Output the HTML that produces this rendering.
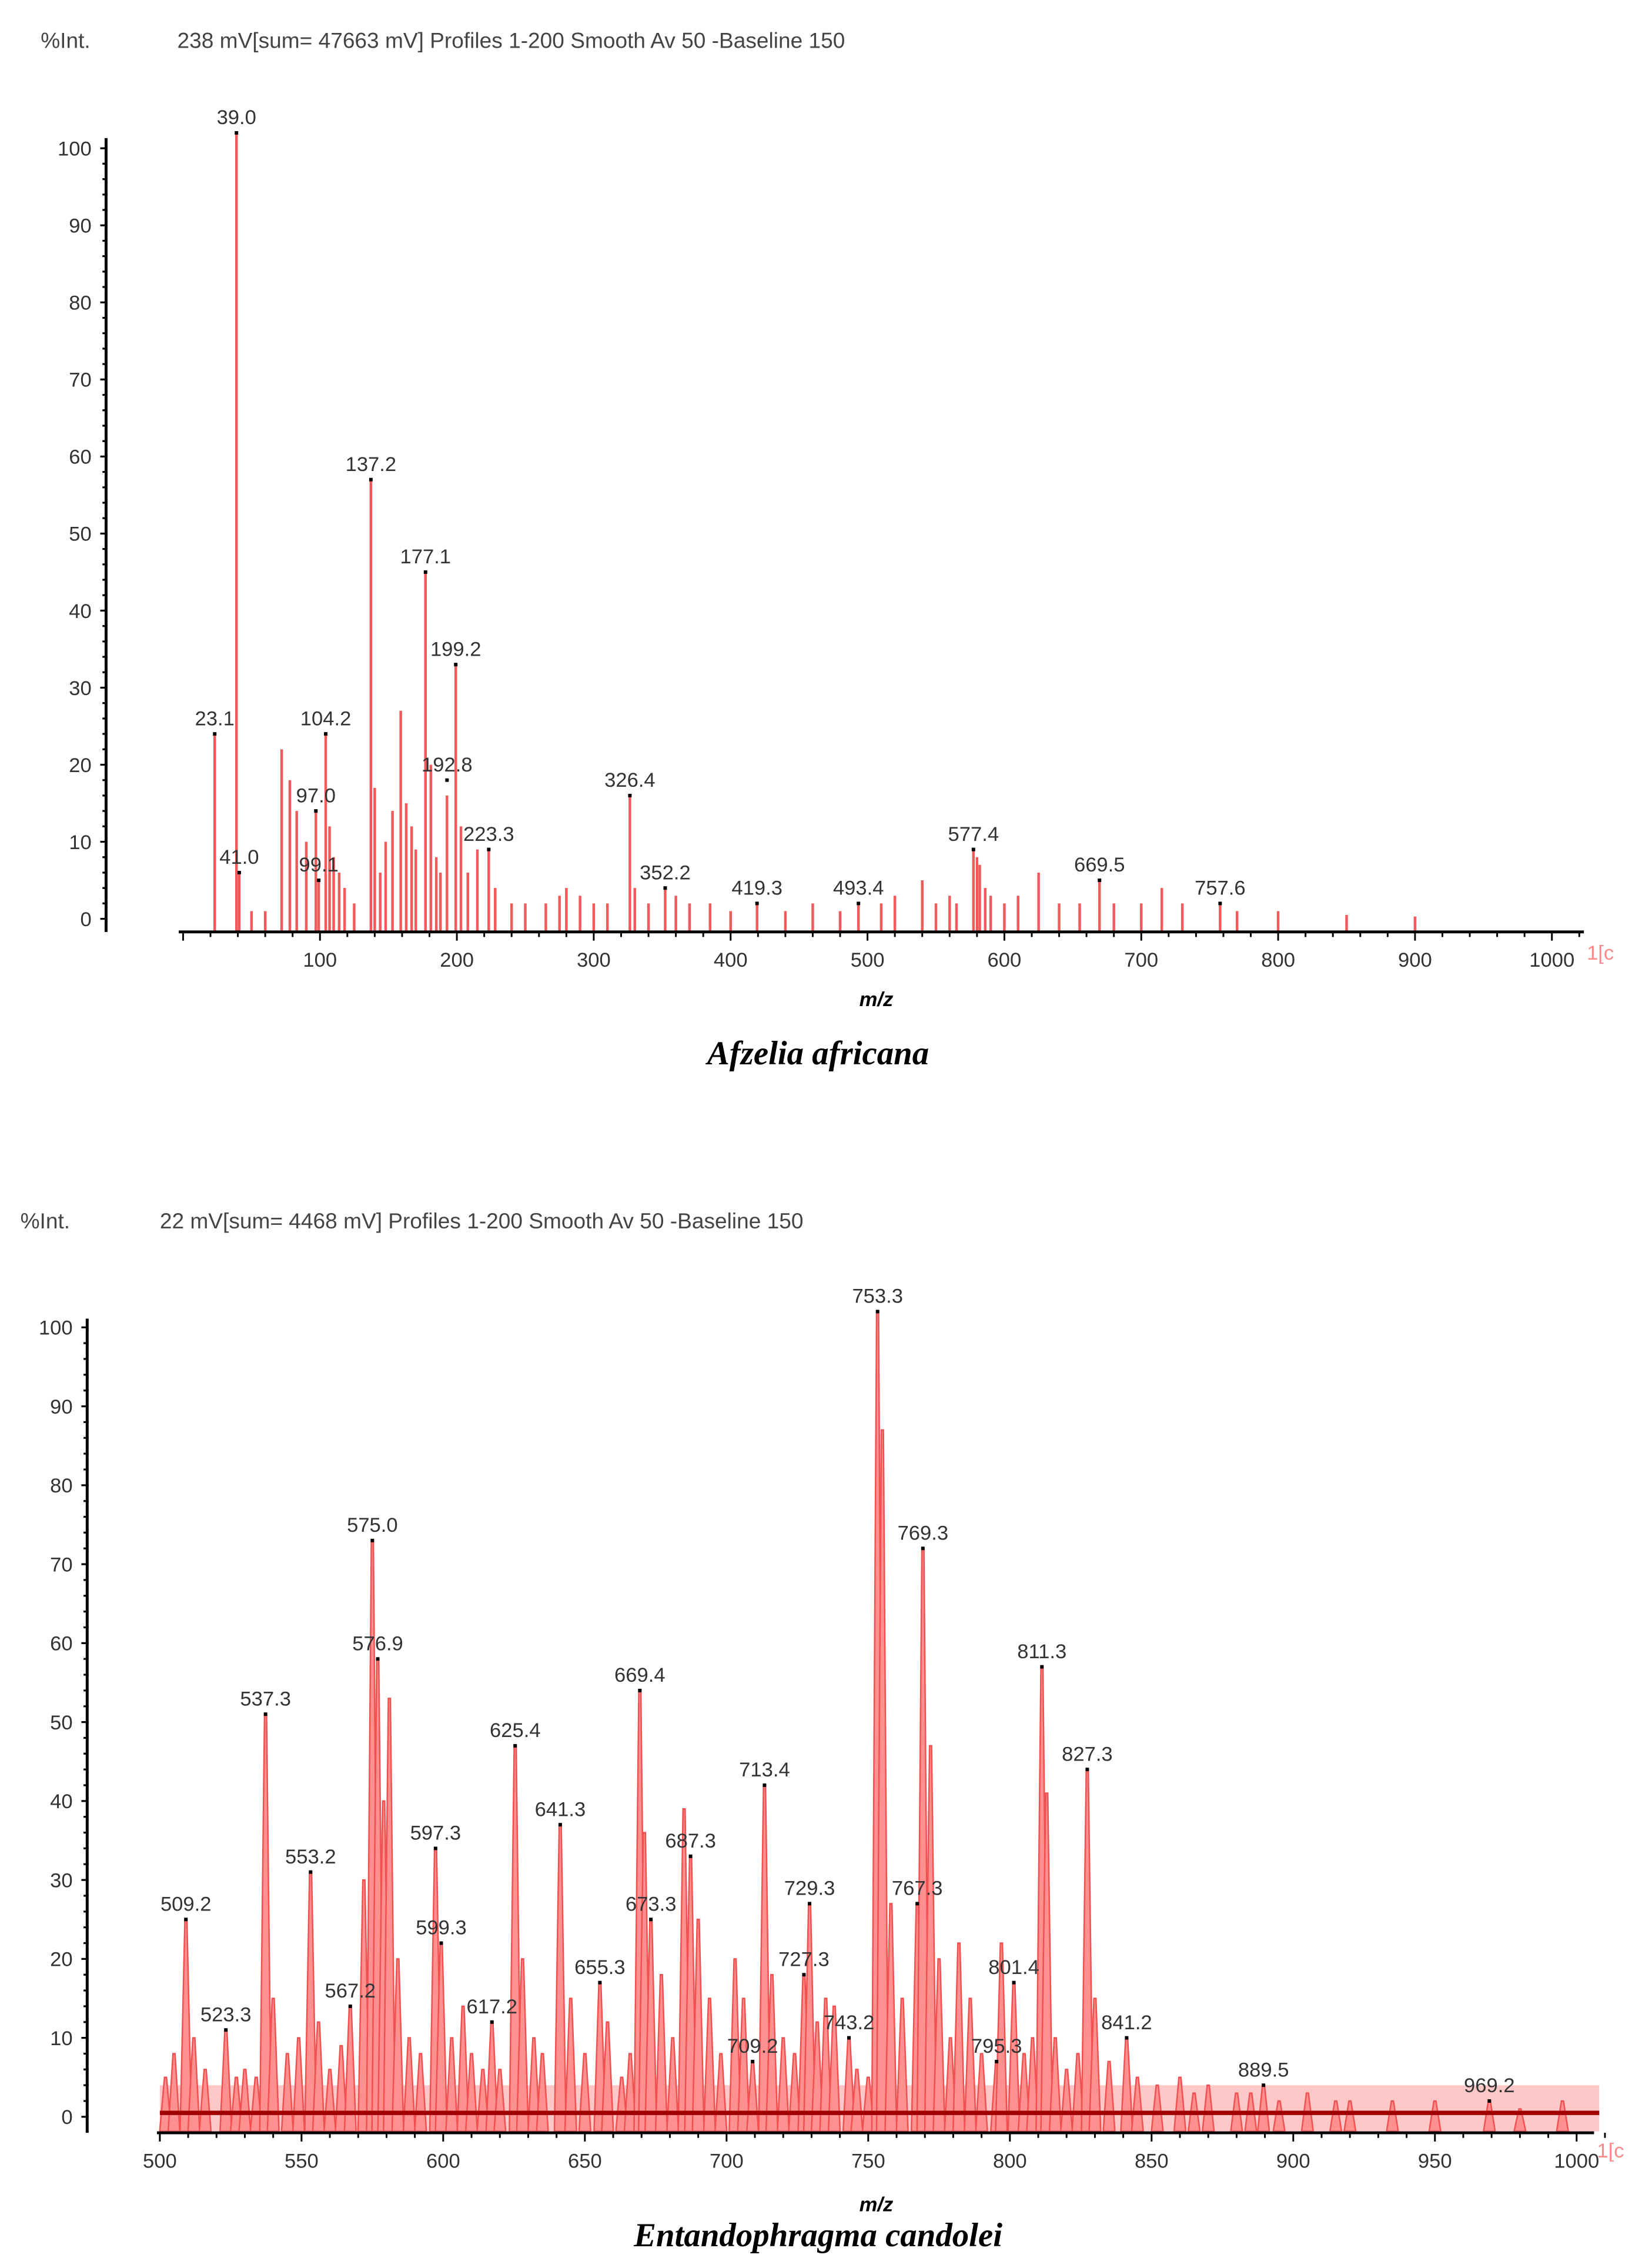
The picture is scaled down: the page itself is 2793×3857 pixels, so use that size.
<!DOCTYPE html>
<html><head><meta charset="utf-8"><style>
html,body{margin:0;padding:0;background:#fff;}
svg{display:block;}
text{font-family:"Liberation Sans",sans-serif;}
</style></head><body>
<svg id="fig" width="2793" height="3857" viewBox="0 0 1130 1560" preserveAspectRatio="none" xmlns="http://www.w3.org/2000/svg">
<g fill="#444" font-size="15">
<text x="28" y="33">%Int.</text>
<text x="122" y="33">238 mV[sum= 47663 mV]  Profiles 1-200  Smooth Av 50 -Baseline 150</text>
</g>
<g fill="#444" font-size="15">
<text x="14" y="845">%Int.</text>
<text x="110" y="845">22 mV[sum= 4468 mV]  Profiles 1-200  Smooth Av 50 -Baseline 150</text>
</g>
<text x="603" y="692" font-size="14" font-weight="bold" font-style="italic" text-anchor="middle">m/z</text>
<text x="603" y="1521" font-size="14" font-weight="bold" font-style="italic" text-anchor="middle">m/z</text>
<text x="563" y="732" font-size="23" font-weight="bold" font-style="italic" text-anchor="middle" style="font-family:'Liberation Serif',serif">Afzelia africana</text>
<text x="563" y="1545" font-size="23" font-weight="bold" font-style="italic" text-anchor="middle" style="font-family:'Liberation Serif',serif">Entandophragma candolei</text>
<text x="1092" y="660" font-size="14" fill="#f88">1[c</text>
<text x="1099" y="1484" font-size="14" fill="#f88">1[c</text>
<g id="top"></g><g id="bot"></g>
</svg>
<script>
// ---- top chart data (Afzelia africana)
const topMz = [23.1,39.0,41.0,50,60,72,78,83,90,97.0,99.1,104.2,107,110,114,118,125,137.2,140,144,148,153,159,163,167,170,177.1,181,185,188,192.8,199.2,203,208,215,223.3,228,240,250,265,275,280,290,300,310,326.4,330,340,352.2,360,370,385,400,419.3,440,460,480,493.4,510,520,540,550,560,565,577.4,580,582,586,590,600,610,625,640,655,669.5,680,700,715,730,757.6,770,800,850,900];
const topInt = [24,102,6,1,1,22,18,14,10,14,5,24,12,8,6,4,2,57,17,6,10,14,27,15,12,9,45,20,8,6,16,33,12,6,9,9,4,2,2,2,3,4,3,2,2,16,4,2,4,3,2,2,1,2,1,2,1,2,2,3,5,2,3,2,9,8,7,4,3,2,3,6,2,2,5,2,2,4,2,2,1,1,0.5,0.3];
const topLabels = ["23.1","39.0","41.0","97.0","99.1","104.2","137.2","177.1","192.8","199.2","223.3","326.4","352.2","419.3","493.4","577.4","669.5","757.6"];
const topLabelMz = [23.1,39.0,41.0,97.0,99.1,104.2,137.2,177.1,192.8,199.2,223.3,326.4,352.2,419.3,493.4,577.4,669.5,757.6];
const topLabelInt = [24,102,6,14,5,24,57,45,18,33,9,16,4,2,2,9,5,2];
const topXTicks = [100,200,300,400,500,600,700,800,900,1000];
const yTicks = [0,10,20,30,40,50,60,70,80,90,100];

// ---- bottom chart data (Entandophragma candolei)
const botMz = [502,505,509.2,512,516,523.3,527,530,534,537.3,540,545,549,553.2,556,560,564,567.2,572,575.0,576.9,579,581,584,588,592,597.3,599.3,603,607,610,614,617.2,620,625.4,628,632,635,641.3,645,650,655.3,658,663,666,669.4,671,673.3,677,681,685,687.3,690,694,698,703,706,709.2,713.4,716,720,724,727.3,729.3,732,735,738,743.2,746,750,753.3,755,758,762,767.3,769.3,772,775,779,782,786,790,795.3,797,801.4,805,808,811.3,813,816,820,824,827.3,830,835,841.2,845,852,860,865,870,880,885,889.5,895,905,915,920,935,950,969.2,980,995];
const botInt = [5,8,25,10,6,11,5,6,5,51,15,8,10,31,12,6,9,14,30,73,58,40,53,20,10,8,34,22,10,14,8,6,12,6,47,20,10,8,37,15,8,17,12,5,8,54,36,25,18,10,39,33,25,15,8,20,15,7,42,18,10,8,18,27,12,15,14,10,6,5,102,87,27,15,27,72,47,20,10,22,15,8,7,22,17,8,10,57,41,10,6,8,44,15,7,10,5,4,5,3,4,3,3,4,2,3,2,2,2,2,2,1,2];
const botLabels = ["509.2","523.3","537.3","553.2","567.2","575.0","576.9","597.3","599.3","617.2","625.4","641.3","655.3","669.4","673.3","687.3","709.2","713.4","727.3","729.3","743.2","753.3","767.3","769.3","795.3","801.4","811.3","827.3","841.2","889.5","969.2"];
const botLabelMz = [509.2,523.3,537.3,553.2,567.2,575.0,576.9,597.3,599.3,617.2,625.4,641.3,655.3,669.4,673.3,687.3,709.2,713.4,727.3,729.3,743.2,753.3,767.3,769.3,795.3,801.4,811.3,827.3,841.2,889.5,969.2];
const botLabelInt = [25,11,51,31,14,73,58,34,22,12,47,37,17,54,25,33,7,42,18,27,10,102,27,72,7,17,57,44,10,4,2];
const botXTicks = [500,550,600,650,700,750,800,850,900,950,1000];

const NS="http://www.w3.org/2000/svg";
function mk(parent,tag,attrs){const e=document.createElementNS(NS,tag);for(const k in attrs)e.setAttribute(k,attrs[k]);parent.appendChild(e);return e;}

function drawChart(g,cfg){
  const X=cfg.x, Y=cfg.y;
  const ya=mk(g,'line',{x1:cfg.axX,y1:cfg.yTop,x2:cfg.axX,y2:cfg.axY,stroke:'#000','stroke-width':2});
  
  
  for(let v=0;v<=100;v+=2){const t=mk(g,'line',{x1:cfg.axX-(v%10==0?4:2.5),y1:Y(v),x2:cfg.axX,y2:Y(v),stroke:'#000','stroke-width':1.3});
    
    }
  yTicks.forEach(v=>{const t=mk(g,'text',{x:cfg.axX-10,y:Y(v)+5,'font-size':14,'text-anchor':'end',fill:'#333'});t.textContent=v;
    
    });
  if(cfg.baseRed){
    const nb=mk(g,'rect',{x:X(500),y:Y(4),width:X(1008)-X(500),height:cfg.y0-Y(4),fill:'#ff9a9a',opacity:0.55});
    
    }
  const n=cfg.mz.length;
  for(let i=0;i<n;i++){
    const xm=X(cfg.mz[i]);
    if(cfg.hw){
      const p=mk(g,'polygon',{points:`${xm-cfg.hw},${cfg.y0} ${xm-0.7},${Y(cfg.int[i])} ${xm+0.7},${Y(cfg.int[i])} ${xm+cfg.hw},${cfg.y0}`,fill:'#ff9090',stroke:'#f05050','stroke-width':1});
      
      
    } else {
      const p=mk(g,'line',{x1:xm,y1:cfg.y0,x2:xm,y2:Y(cfg.int[i]),stroke:'#f05a5a','stroke-width':1.8});
      
      
    }
  }
  if(cfg.baseRed){const b=mk(g,'line',{x1:X(500),y1:Y(0.5),x2:X(1008),y2:Y(0.5),stroke:'#a00000','stroke-width':3});
    
    }
  const xa=mk(g,'line',{x1:cfg.xStart,y1:cfg.axY,x2:cfg.xEnd,y2:cfg.axY,stroke:'#000','stroke-width':2});
  
  
  for(let m=cfg.minStart;m<=cfg.xMax;m+=cfg.minor){const major=(m%cfg.majorStep===0);const t=mk(g,'line',{x1:X(m),y1:cfg.axY,x2:X(m),y2:cfg.axY+(major?6:3.5),stroke:'#000','stroke-width':1.2});
    
    }
  cfg.xt.forEach(v=>{const t=mk(g,'text',{x:X(v),y:cfg.axY+24,'font-size':14,'text-anchor':'middle',fill:'#333'});t.textContent=v;
    
    });
  cfg.labels.forEach((s,i)=>{const x=X(cfg.lmz[i]),y=Y(cfg.lint[i]);
    const d=mk(g,'rect',{x:x-1.2,y:y-1.2,width:2.4,height:2.4,fill:'#000'});
    
    
    const t=mk(g,'text',{x:x,y:y-6,'font-size':14,'text-anchor':'middle',fill:'#333'});t.textContent=s;
    
    });
}
drawChart(document.getElementById('top'),{
  x:m=>126+m*0.942, y:v=>632-v*5.3, y0:641, axX:73, yTop:95, axY:641, xStart:123, xEnd:1090,
  mz:topMz,int:topInt,labels:topLabels,lmz:topLabelMz,lint:topLabelInt,xt:topXTicks,
  minStart:0,xMax:1020,minor:20,majorStep:100,hw:0
});
drawChart(document.getElementById('bot'),{
  x:m=>110+(m-500)*1.95, y:v=>1456-v*5.43, y0:1466, axX:60, yTop:907, axY:1467, xStart:108, xEnd:1097,
  mz:botMz,int:botInt,labels:botLabels,lmz:botLabelMz,lint:botLabelInt,xt:botXTicks,
  minStart:500,xMax:1010,minor:10,majorStep:50,hw:4,baseRed:true
});
document.getElementById('top');
document.getElementById('top');
document.getElementById('bot');
document.getElementById('bot');
</script>
</body></html>
